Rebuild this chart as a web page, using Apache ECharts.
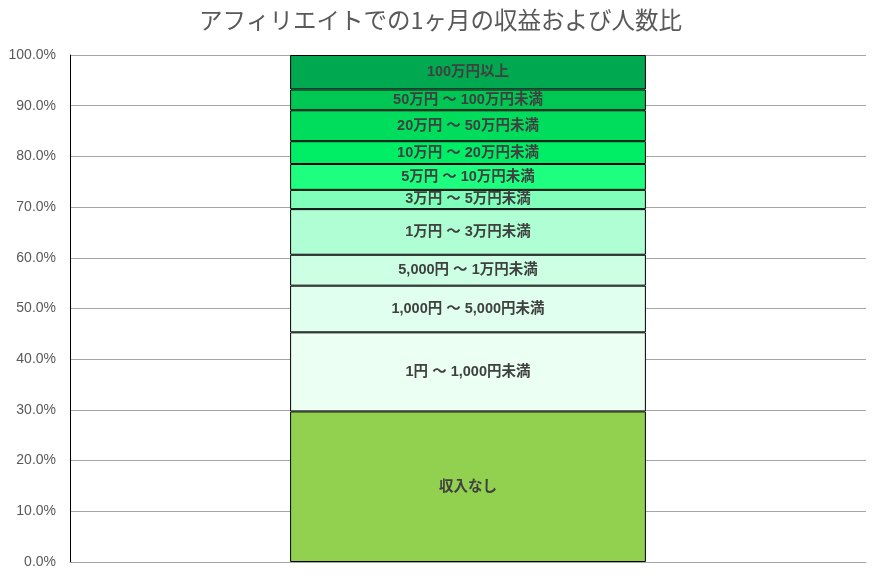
<!DOCTYPE html>
<html><head><meta charset="utf-8">
<script src="https://cdn.jsdelivr.net/npm/echarts@6/dist/echarts.min.js"></script>
<style>html,body{margin:0;padding:0;background:#fff}#c{width:881px;height:575px}</style>
</head><body><div id="c"></div>
<script>
const categories = [''];
const seriesNames = ['収入なし','1円 ～ 1,000円未満','1,000円 ～ 5,000円未満','5,000円 ～ 1万円未満','1万円 ～ 3万円未満','3万円 ～ 5万円未満','5万円 ～ 10万円未満','10万円 ～ 20万円未満','20万円 ～ 50万円未満','50万円 ～ 100万円未満','100万円以上'];
const seriesValues = [29.7, 15.6, 9.2, 6.1, 9.0, 3.8, 5.1, 4.5, 6.1, 4.1, 6.8];
const seriesColors = ['#92D050','#EBFFF3','#E0FFEE','#CCFFE4','#B0FFD4','#80FFBA','#1EFF80','#00EE66','#00DD5C','#00C654','#00A84F'];
const yTicks = [0,10,20,30,40,50,60,70,80,90,100];

const chart = echarts.init(document.getElementById('c'));
chart.setOption({
  animation:false,
  title:{text:'アフィリエイトでの1ヶ月の収益および人数比',left:'center',top:3,
    textStyle:{fontFamily:'Noto Sans CJK JP',fontSize:23.5,fontWeight:'normal',color:'#595959'}},
  grid:{left:70,right:15,top:55,bottom:13},
  xAxis:{type:'category',data:categories,axisLine:{show:true,lineStyle:{color:'#A6A6A6'}},axisTick:{show:false},axisLabel:{show:false}},
  yAxis:{type:'value',min:yTicks[0],max:yTicks[yTicks.length-1],interval:10,
    axisLine:{show:true,lineStyle:{color:'#000',width:1}},axisTick:{show:false},
    splitLine:{lineStyle:{color:'#A6A6A6'}},
    axisLabel:{formatter:v=>v.toFixed(1)+'%',color:'#595959',fontSize:14,fontFamily:'Liberation Sans',margin:14}},
  series: seriesNames.map((n,i)=>({
    name:n,type:'bar',stack:'all',barWidth:'44.7%',
    data:[seriesValues[i]],
    itemStyle:{color:seriesColors[i],borderColor:'#000',borderWidth:1},
    label:{show:true,position:'inside',formatter:n,color:'#404040',fontSize:14.5,fontWeight:'bold',fontFamily:'Liberation Sans, Noto Sans CJK JP'}
  }))
});
</script></body></html>
